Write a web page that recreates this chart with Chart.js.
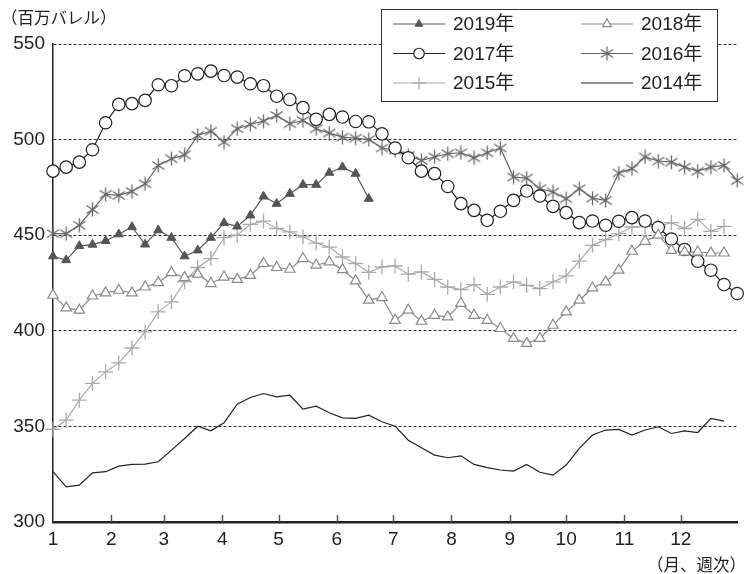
<!DOCTYPE html>
<html>
<head>
<meta charset="utf-8">
<script src="https://cdn.jsdelivr.net/npm/chart.js"></script>
<style>
body{margin:0;background:#fff;}
</style>
</head>
<body>
<canvas id="mycanvas" width="746" height="574"></canvas>
<script>
// month ticks (day of year where each month starts)
var months=['1','2','3','4','5','6','7','8','9','10','11','12'];
var monthStart=[0,31,59,90,120,151,181,212,243,273,304,334];

// weekly stock levels, million barrels
var y2019=[439,437,444.4,445.1,447,450.5,454.3,445.2,452.6,448.7,439,442.1,448.7,456.4,454.6,460.4,470.3,466.5,471.7,476.4,476.4,482.7,485.6,482.2,469.1];
var y2018=[418.6,412,410.8,418.2,419.8,421.2,419.8,422.9,425.2,430.4,427.8,429.6,424.7,428.1,426.9,429,435.2,433.1,432.2,437.8,434.3,436,432,426.1,
	416,417.4,405.5,410.8,405,408.1,407.3,414.3,408.1,405.5,401.2,396,393.4,396,402.9,409.9,416,422.4,425.6,431.7,441.6,446.8,450,442.1,441.2,441.2,440.7,440.7];
var y2017=[483.5,485.6,488.2,494.7,508.8,518.4,518.8,520.5,528.7,528.2,533.4,534.4,535.8,533.5,532.7,529.2,528.2,522.7,521,516.7,510.6,513.2,511.8,509.5,
	509.3,503,495.6,490.5,483.5,482.2,475.5,466.5,463,457.8,462.5,468.2,473.1,470.5,465.1,461.8,456.6,457.4,455.2,457.3,459.2,457.4,454,448,442.5,436.4,431.7,424.2,419.5];
var y2016=[450.8,450.8,455.2,463.4,471.4,470.8,472.9,476.9,486.5,490,492,502.2,504.4,498.7,505.7,507.9,509.7,512.6,508.3,510,505.7,503.4,501.3,500.8,
	500,495.6,494.4,491.7,489.1,490.9,492.6,493.1,490.5,493.1,495.6,480.4,479.9,474.3,472.6,469.1,474.3,469.4,468.2,482.5,484.8,490.9,488.8,488.2,485.6,483.5,485.6,486.5,478.6];
var y2015=[348.4,353.3,363.7,372.5,378.5,383.2,391,399.4,409.9,415.1,425.6,433.1,437.8,448.7,450,455.7,457.4,453.5,451.7,449.1,445.9,443.8,438.6,435.2,
	430.6,433.4,433.9,429.6,430.8,426.9,422.9,421.6,424.2,419.1,422.9,425.6,423.8,422.1,425.6,428.7,436.4,444.7,447.7,450.8,454.3,454.6,454.6,456.6,453.5,458.3,452,454.6];
var y2014=[326.3,318.4,319.3,325.7,326.3,329.2,330.1,330.3,331.5,337.6,343.7,350.1,347.7,351.9,361.6,365.1,367.2,365.4,366.3,359,360.6,357.1,354.5,354.2,
	355.9,352.4,350.1,342.8,338.8,335,333.6,334.6,330.1,328.4,327.2,326.6,330.1,326,324.5,329.8,338.5,345.5,348.1,348.4,345.5,348.1,349.8,346.3,347.7,346.8,354.2,352.8];

var FONT="'Liberation Sans', Arial, 'Noto Sans CJK JP', sans-serif";

// weekly series -> points on a day-of-year axis
function weekly(arr){
	var pts=[];
	for(var i=0;i<arr.length;i++){
		pts.push({x:i*7,y:arr[i]});
	}
	return pts;
}

// six armed asterisk for 2016
function asterisk(color){
	var c=document.createElement('canvas');
	c.width=15;c.height=15;
	var g=c.getContext('2d');
	g.strokeStyle=color;
	g.lineWidth=1.3;
	g.beginPath();
	g.moveTo(7.5,0.5);g.lineTo(7.5,14.5);
	g.moveTo(1.5,3.5);g.lineTo(13.5,11.5);
	g.moveTo(1.5,11.5);g.lineTo(13.5,3.5);
	g.stroke();
	return c;
}

var chartdata={
	datasets:[
	{
		label:'2019年',
		data:weekly(y2019),
		borderColor:'#555',
		borderWidth:1.2,
		pointStyle:'triangle',
		pointRadius:5.2,
		pointBackgroundColor:'#555',
		pointBorderColor:'#555',
		pointBorderWidth:1
	},
	{
		label:'2018年',
		data:weekly(y2018),
		borderColor:'#8a8a8a',
		borderWidth:1.2,
		pointStyle:'triangle',
		pointRadius:6,
		pointBackgroundColor:'#fff',
		pointBorderColor:'#8a8a8a',
		pointBorderWidth:1.2
	},
	{
		label:'2017年',
		data:weekly(y2017),
		borderColor:'#222',
		borderWidth:1.2,
		pointStyle:'circle',
		pointRadius:6.2,
		pointBackgroundColor:'#fff',
		pointBorderColor:'#222',
		pointBorderWidth:1.2
	},
	{
		label:'2016年',
		data:weekly(y2016),
		borderColor:'#666',
		borderWidth:1.2,
		pointStyle:asterisk('#666'),
		pointRadius:7,
		pointBackgroundColor:'#666',
		pointBorderColor:'#666'
	},
	{
		label:'2015年',
		data:weekly(y2015),
		borderColor:'#aaa',
		borderWidth:1.2,
		pointStyle:'cross',
		pointRadius:7.5,
		pointBackgroundColor:'#aaa',
		pointBorderColor:'#aaa',
		pointBorderWidth:1.3
	},
	{
		label:'2014年',
		data:weekly(y2014),
		borderColor:'#222',
		borderWidth:1.2,
		pointRadius:0
	}
	]
};

// legend box, unit labels and the inward month ticks
var extras={
	id:'extras',
	afterDraw:function(chart){
		var ctx=chart.ctx;
		var area=chart.chartArea;
		var xs=chart.scales.x;
		ctx.save();
		// month tick marks pointing up
		ctx.strokeStyle='#555';
		ctx.lineWidth=1.5;
		for(var m=1;m<monthStart.length;m++){
			var px=Math.round(xs.getPixelForValue(monthStart[m]))+0.5;
			ctx.beginPath();
			ctx.moveTo(px,area.bottom);
			ctx.lineTo(px,area.bottom-7);
			ctx.stroke();
		}
		// legend
		ctx.fillStyle='#fff';
		ctx.fillRect(381,9,336,92);
		ctx.strokeStyle='#333';
		ctx.lineWidth=1;
		ctx.strokeRect(381.5,9.5,336,92);
		chart.data.datasets.forEach(function(ds,i){
			var col=i%2,row=Math.floor(i/2);
			var x0=col==0?393:581;
			var y=24+row*29.5;
			ctx.strokeStyle=ds.borderColor;
			ctx.lineWidth=1.2;
			ctx.beginPath();
			ctx.moveTo(x0,y);
			ctx.lineTo(x0+52,y);
			ctx.stroke();
			if(ds.pointRadius>0){
				ctx.fillStyle=ds.pointBackgroundColor;
				ctx.strokeStyle=ds.pointBorderColor;
				ctx.lineWidth=ds.pointBorderWidth||1;
				Chart.helpers.drawPoint(ctx,{pointStyle:ds.pointStyle,radius:ds.pointRadius*0.85,rotation:0,borderWidth:ctx.lineWidth},x0+26,y);
			}
			ctx.fillStyle='#222';
			ctx.font='19px '+FONT;
			ctx.textBaseline='middle';
			ctx.textAlign='left';
			ctx.fillText(ds.label,x0+60,y+1);
		});
		// unit labels
		ctx.fillStyle='#222';
		ctx.font="16.5px 'Noto Sans CJK JP', sans-serif";
		ctx.textBaseline='middle';
		ctx.textAlign='left';
		ctx.fillText('（百万バレル）',1,18);
		ctx.textAlign='right';
		ctx.fillText('（月、週次）',746,565);
		ctx.restore();
	}
};

var ctx=document.getElementById('mycanvas');
var lineGraph=new Chart(ctx,{
	type:'line',
	data:chartdata,
	plugins:[extras],
	options:{
		responsive:false,
		animation:false,
		layout:{padding:{top:44,right:0,left:0,bottom:0}},
		elements:{line:{tension:0},point:{hitRadius:0}},
		datasets:{line:{clip:false}},
		plugins:{legend:{display:false},tooltip:{enabled:false}},
		scales:{
			x:{
				type:'linear',
				min:0,
				max:364,
				afterBuildTicks:function(scale){
					scale.ticks=monthStart.map(function(v){return {value:v};});
				},
				afterFit:function(scale){scale.height=52;},
				ticks:{
					autoSkip:false,
					maxRotation:0,
					padding:6,
					color:'#222',
					font:{size:19,family:FONT},
					callback:function(v){
						var i=monthStart.indexOf(v);
						return i<0?'':months[i];
					}
				},
				grid:{display:false,drawTicks:false},
				border:{display:true,color:'#222',width:2.5}
			},
			y:{
				min:300,
				max:550,
				afterFit:function(scale){scale.width=53;},
				ticks:{
					stepSize:50,
					padding:8,
					color:'#222',
					font:{size:19,family:FONT}
				},
				grid:{
					drawTicks:false,
					lineWidth:1,
					color:function(c){return c.tick&&c.tick.value==300?'rgba(0,0,0,0)':'#333';}
				},
				border:{display:true,color:'#222',width:1.5,dash:[3,2]}
			}
		}
	}
});
</script>
</body>
</html>
